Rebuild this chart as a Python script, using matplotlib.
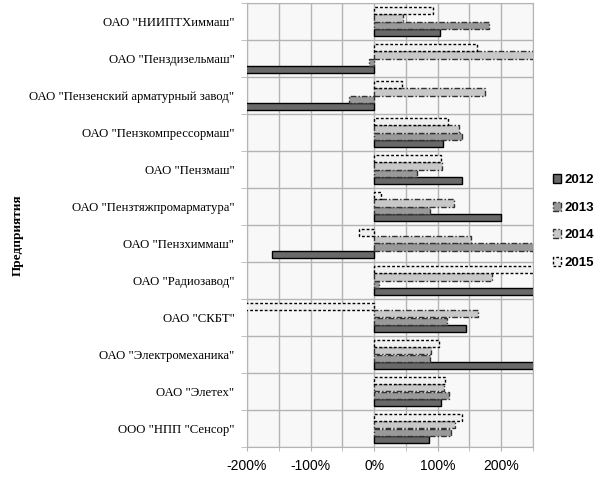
import matplotlib
matplotlib.use("Agg")
import matplotlib.pyplot as plt
import numpy as np
from matplotlib.patches import Patch
from matplotlib.ticker import MultipleLocator, FuncFormatter

# Categories, top to bottom as in the chart
companies = [
    'ОАО "НИИПТХиммаш"',
    'ОАО "Пенздизельмаш"',
    'ОАО "Пензенский арматурный завод"',
    'ОАО "Пензкомпрессормаш"',
    'ОАО "Пензмаш"',
    'ОАО "Пензтяжпромарматура"',
    'ОАО "Пензхиммаш"',
    'ОАО "Радиозавод"',
    'ОАО "СКБТ"',
    'ОАО "Электромеханика"',
    'ОАО "Элетех"',
    'ООО "НПП "Сенсор"',
]
years = ["2012", "2013", "2014", "2015"]

# Values in percent (bars beyond the axis limits are clipped in the original)
v2012 = [104, -230, -230, 109, 139, 199, -161, 290, 144, 280, 106, 87]
v2013 = [180, -8, -40, 139, 68, 88, 290, 7, 114, 88, 118, 121]
v2014 = [46, 270, 174, 134, 107, 126, 153, 185, 164, 90, 110, 128]
v2015 = [93, 162, 44, 117, 106, 11, -24, 270, -230, 102, 112, 139]

series = [v2012, v2013, v2014, v2015]
faces = ["#696969", "#999999", "#c8c8c8", "#f0f0f0"]
edges = ["#000000", "#333333", "#333333", "#000000"]
styles = ["solid", (0, (4, 1.5, 1, 1.5)), (0, (4, 1.5, 1, 1.5)), (0, (2, 1.5))]

fig = plt.figure(figsize=(6.11, 4.90), dpi=100)
ax = fig.add_axes([247 / 611, 1 - 447 / 490, (533 - 247) / 611, (447 - 3) / 490])
ax.set_facecolor("#f8f8f8")

n = len(companies)
ypos = np.arange(n)[::-1]  # first company at top
h = 0.2
offsets = [-0.3, -0.1, 0.1, 0.3]
for vals, fc, ec, ls, off, yr in zip(series, faces, edges, styles, offsets, years):
    ax.barh(ypos + off, np.array(vals) / 100.0, height=h, color=fc,
            edgecolor=ec, linewidth=1.0, linestyle=ls, label=yr, zorder=3)

ax.set_xlim(-2.0, 2.5)
ax.set_ylim(-0.5, n - 0.5)
ax.xaxis.set_minor_locator(MultipleLocator(0.5))
ax.set_xticks([-2, -1, 0, 1, 2])
ax.xaxis.set_major_formatter(FuncFormatter(lambda x, p: f"{x*100:.0f}%"))
ax.grid(True, which="both", axis="x", color="#b4b4b4", linewidth=1.0, zorder=0)
ax.set_yticks(ypos)
ax.set_yticklabels(companies, fontfamily="Liberation Serif", fontsize=9.2)
ax.set_yticks(np.arange(-0.5, n, 1.0), minor=True)
ax.grid(True, which="minor", axis="y", color="#b4b4b4", linewidth=1.0, zorder=0)
ax.tick_params(axis="y", which="major", length=0, pad=9)
ax.tick_params(axis="y", which="minor", length=4, color="#b4b4b4")
ax.tick_params(axis="x", which="both", length=3, color="#b4b4b4", pad=6)
for lbl in ax.get_xticklabels():
    lbl.set_fontfamily("Liberation Sans")
    lbl.set_fontsize(10)
for s in ax.spines.values():
    s.set_color("#b4b4b4")

handles = [Patch(facecolor=fc, edgecolor=ec, linestyle=ls, linewidth=1.0, label=yr)
           for fc, ec, ls, yr in zip(faces, edges, styles, years)]
fig.legend(handles=handles, loc="center left", bbox_to_anchor=(541 / 611, 1 - 221.5 / 490),
           frameon=False, prop={"family": "Liberation Sans", "weight": "bold", "size": 9.5},
           handlelength=0.65, handleheight=0.65, handletextpad=0.25, labelspacing=1.17)

fig.text(18 / 611, 1 - 235 / 490, "Предприятия", rotation=90, ha="center", va="center",
         fontfamily="Liberation Serif", fontweight="bold", fontsize=9.5)

fig.savefig("out.png", dpi=100)
